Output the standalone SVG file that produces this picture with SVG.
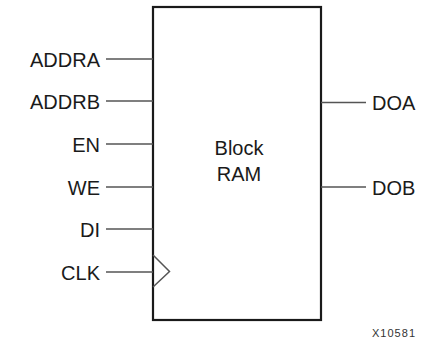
<svg xmlns="http://www.w3.org/2000/svg" width="428" height="343" viewBox="0 0 428 343">
<style>
.lbl{font-family:"Liberation Sans",Arial,Helvetica,sans-serif;font-size:20px;fill:#1a1a1a}
.pin{stroke:#555;stroke-width:1.5;fill:none}
.box{stroke:#1a1a1a;stroke-width:2.2;fill:#fff}
</style>
<rect width="428" height="343" fill="#fff"/>
<g id="block_ram">
<rect class="box" x="153" y="7" width="168" height="313"/>
<path class="pin" d="M153 255 L169.5 271.5 L153 287"/>
<text class="lbl" x="239" y="155" text-anchor="middle">Block</text>
<text class="lbl" x="239" y="181" text-anchor="middle">RAM</text>
</g>
<g id="connectors">
<line class="pin" x1="106" y1="59" x2="153" y2="59"/>
<line class="pin" x1="106" y1="101" x2="153" y2="101"/>
<line class="pin" x1="106" y1="144" x2="153" y2="144"/>
<line class="pin" x1="106" y1="187" x2="153" y2="187"/>
<line class="pin" x1="106" y1="229" x2="153" y2="229"/>
<line class="pin" x1="106" y1="272" x2="153" y2="272"/>
<line class="pin" x1="321" y1="102.5" x2="366" y2="102.5"/>
<line class="pin" x1="321" y1="187" x2="366" y2="187"/>
</g>
<g id="pin_ADDRA"><text class="lbl" x="100" y="66.5" text-anchor="end">ADDRA</text></g>
<g id="pin_ADDRB"><text class="lbl" x="100" y="108.5" text-anchor="end">ADDRB</text></g>
<g id="pin_EN"><text class="lbl" x="100" y="151.5" text-anchor="end">EN</text></g>
<g id="pin_WE"><text class="lbl" x="100" y="194.5" text-anchor="end">WE</text></g>
<g id="pin_DI"><text class="lbl" x="100" y="236.5" text-anchor="end">DI</text></g>
<g id="pin_CLK"><text class="lbl" x="100" y="279.5" text-anchor="end">CLK</text></g>
<g id="pin_DOA"><text class="lbl" x="372" y="110">DOA</text></g>
<g id="pin_DOB"><text class="lbl" x="372" y="194.5">DOB</text></g>
<g id="figure_id"><text x="372" y="337" textLength="43" style="font-family:'Liberation Sans',Arial,sans-serif;font-size:11px;fill:#333">X10581</text></g>
</svg>
